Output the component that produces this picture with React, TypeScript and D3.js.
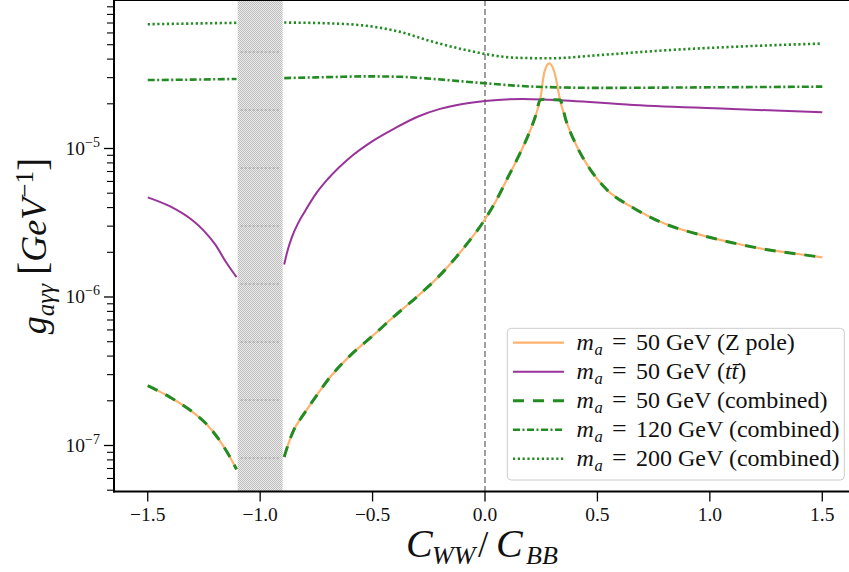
import React from "react";
import * as d3 from "d3";

const W = 849;
const H = 572;

// ---- axis config ----
const X_DOMAIN = [-1.65, 1.65];
const Y_DOMAIN = [4.9e-8, 1e-4];
const X_TICKS = [-1.5, -1.0, -0.5, 0.0, 0.5, 1.0, 1.5];
const X_TICK_LABELS = ["\u22121.5", "\u22121.0", "\u22120.5", "0.0", "0.5", "1.0", "1.5"];
const Y_TICKS = [1e-7, 1e-6, 1e-5];
const Y_TICK_EXP = ["\u22127", "\u22126", "\u22125"];
const BAND = [-1.1, -0.9];

// ---- data: Z pole, m_a = 50 GeV ----
const zpoleLeftX = [-1.5, -1.4, -1.3, -1.24, -1.18, -1.135, -1.105];
const zpoleLeftG = [2.53e-7, 2.11e-7, 1.68e-7, 1.40e-7, 1.08e-7, 8.4e-8, 6.9e-8];
const zpoleRightX = [-0.893, -0.875, -0.85, -0.82, -0.8, -0.75, -0.7, -0.6, -0.5, -0.4, -0.3, -0.2, -0.1, 0.0, 0.05, 0.1, 0.15, 0.2, 0.225, 0.245, 0.265, 0.286, 0.31, 0.334, 0.36, 0.41, 0.47, 0.54, 0.66, 0.8, 0.95, 1.1, 1.25, 1.4, 1.5];
const zpoleRightG = [8.36e-8, 1.023e-7, 1.274e-7, 1.514e-7, 1.679e-7, 2.16e-7, 2.75e-7, 4.03e-7, 5.47e-7, 7.5e-7, 1.012e-6, 1.403e-6, 2.09e-6, 3.34e-6, 4.47e-6, 6.31e-6, 8.91e-6, 1.312e-5, 1.66e-5, 2.12e-5, 3.31e-5, 3.74e-5, 3.21e-5, 2.12e-5, 1.55e-5, 1.023e-5, 7.16e-6, 5.31e-6, 3.98e-6, 3.11e-6, 2.64e-6, 2.32e-6, 2.09e-6, 1.94e-6, 1.85e-6];

// ---- data: ttbar, m_a = 50 GeV ----
const ttLeftX = [-1.5, -1.4, -1.3, -1.25, -1.2, -1.15, -1.105];
const ttLeftG = [4.69e-6, 4.07e-6, 3.27e-6, 2.79e-6, 2.26e-6, 1.70e-6, 1.36e-6];
const ttRightX = [-0.893, -0.88, -0.86, -0.83, -0.8, -0.75, -0.7, -0.6, -0.5, -0.4, -0.3, -0.2, -0.1, 0.0, 0.17, 0.29, 0.66, 1.1, 1.5];
const ttRightG = [1.656e-6, 2.0e-6, 2.5e-6, 3.17e-6, 3.8e-6, 5.01e-6, 6.21e-6, 8.71e-6, 1.122e-5, 1.371e-5, 1.637e-5, 1.849e-5, 1.995e-5, 2.09e-5, 2.158e-5, 2.13e-5, 1.963e-5, 1.845e-5, 1.754e-5];

// ---- data: combined, m_a = 50 GeV ----
const comb50LeftX = [-1.5, -1.4, -1.3, -1.24, -1.18, -1.135, -1.105];
const comb50LeftG = [2.53e-7, 2.11e-7, 1.68e-7, 1.40e-7, 1.08e-7, 8.4e-8, 6.9e-8];
const comb50RightX = [-0.893, -0.875, -0.85, -0.82, -0.8, -0.75, -0.7, -0.6, -0.5, -0.4, -0.3, -0.2, -0.1, 0.0, 0.05, 0.1, 0.15, 0.2, 0.225, 0.245, 0.265, 0.286, 0.31, 0.334, 0.36, 0.41, 0.47, 0.54, 0.66, 0.8, 0.95, 1.1, 1.25, 1.4, 1.5];
const comb50RightG = [8.36e-8, 1.023e-7, 1.274e-7, 1.514e-7, 1.679e-7, 2.16e-7, 2.75e-7, 4.03e-7, 5.47e-7, 7.5e-7, 1.012e-6, 1.403e-6, 2.09e-6, 3.34e-6, 4.47e-6, 6.31e-6, 8.91e-6, 1.312e-5, 1.66e-5, 2.12e-5, 2.15e-5, 2.14e-5, 2.13e-5, 2.12e-5, 1.55e-5, 1.023e-5, 7.16e-6, 5.31e-6, 3.98e-6, 3.11e-6, 2.64e-6, 2.32e-6, 2.09e-6, 1.94e-6, 1.85e-6];

// ---- data: combined, m_a = 120 GeV ----
const comb120LeftX = [-1.5, -1.3, -1.105];
const comb120LeftG = [2.89e-5, 2.91e-5, 2.94e-5];
const comb120RightX = [-0.893, -0.675, -0.526, -0.378, -0.23, -0.1, 0.0, 0.215, 0.512, 0.956, 1.5];
const comb120RightG = [2.98e-5, 3.03e-5, 3.06e-5, 3.04e-5, 2.94e-5, 2.83e-5, 2.75e-5, 2.61e-5, 2.56e-5, 2.58e-5, 2.61e-5];

// ---- data: combined, m_a = 200 GeV ----
const comb200LeftX = [-1.5, -1.105];
const comb200LeftG = [6.87e-5, 7.02e-5];
const comb200RightX = [-0.893, -0.675, -0.526, -0.378, -0.23, -0.081, 0.0, 0.141, 0.289, 0.512, 0.808, 1.105, 1.5];
const comb200RightG = [7.05e-5, 6.95e-5, 6.7e-5, 6.1e-5, 5.22e-5, 4.59e-5, 4.33e-5, 4.08e-5, 4.05e-5, 4.26e-5, 4.59e-5, 4.84e-5, 5.09e-5];

const LEGEND_MASS = ["50", "50", "50", "120", "200"];
const LEGEND_TAGS = ["(Z pole)", "(tt)", "(combined)", "(combined)", "(combined)"];

const FONT = "'Liberation Serif', 'DejaVu Serif', serif";

const ORANGE = "#ffb26e";
const PURPLE = "#993399";
const GREEN = "#228b22";

const STYLES = [
  { stroke: ORANGE, width: 2.2, dash: "none" },
  { stroke: PURPLE, width: 2.0, dash: "none" },
  { stroke: GREEN, width: 3.0, dash: "11 9" },
  { stroke: GREEN, width: 2.6, dash: "7 2.5 2 2.5" },
  { stroke: GREEN, width: 2.6, dash: "2.2 2.6" },
];

const SERIES = [
  [[zpoleLeftX, zpoleLeftG], [zpoleRightX, zpoleRightG]],
  [[ttLeftX, ttLeftG], [ttRightX, ttRightG]],
  [[comb50LeftX, comb50LeftG], [comb50RightX, comb50RightG]],
  [[comb120LeftX, comb120LeftG], [comb120RightX, comb120RightG]],
  [[comb200LeftX, comb200LeftG], [comb200RightX, comb200RightG]],
];

export default function App() {
  const left = 114;
  const right = 856;
  const top = 0;
  const bottom = 491.5;

  const x = d3.scaleLinear().domain(X_DOMAIN).range([left, right]);
  const y = d3.scaleLog().domain(Y_DOMAIN).range([bottom, top]);

  const line = d3
    .line<[number, number]>()
    .x((d) => x(d[0]))
    .y((d) => y(d[1]))
    .curve(d3.curveMonotoneX);

  const minorTicks: number[] = [];
  for (let e = -8; e <= -4; e++) {
    for (let m = 2; m <= 9; m++) {
      const v = m * Math.pow(10, e);
      if (v >= Y_DOMAIN[0] && v <= Y_DOMAIN[1]) minorTicks.push(v);
    }
  }

  const bx0 = x(BAND[0]);
  const bx1 = x(BAND[1]);
  const hatchYs = d3.range(52, bottom, 58);

  const legendRowY = (i: number) => 342.7 + i * 29;

  return (
    <svg
      width={W}
      height={H}
      style={{ position: "absolute", left: 0, top: 0, background: "#fff" }}
      fontFamily={FONT}
    >
      <defs>
        <pattern id="chk" width="2" height="2" patternUnits="userSpaceOnUse">
          <rect width="2" height="2" fill="#ececec" />
          <rect width="1" height="1" fill="#bdbdbd" />
          <rect x="1" y="1" width="1" height="1" fill="#bdbdbd" />
        </pattern>
        <clipPath id="plotclip">
          <rect x={left} y={top} width={right - left} height={bottom - top} />
        </clipPath>
      </defs>

      {/* excluded band */}
      <rect x={bx0} y={top} width={bx1 - bx0} height={bottom - top} fill="url(#chk)" />
      {hatchYs.map((hy, i) => (
        <line key={i} x1={bx0 + 3} x2={bx1 - 3} y1={hy} y2={hy} stroke="#8a8a8a" strokeWidth={0.8} strokeDasharray="2 2" />
      ))}

      {/* vertical dashed line at 0 */}
      <line x1={x(0)} x2={x(0)} y1={top} y2={bottom} stroke="#808080" strokeWidth={1.5} strokeDasharray="6 3" />

      {/* curves */}
      <g clipPath="url(#plotclip)">
        {SERIES.map((branches, si) =>
          branches.map(([xs, gs], bi) => (
            <path
              key={`${si}-${bi}`}
              d={line(xs.map((xv, k) => [xv, gs[k]] as [number, number])) || ""}
              fill="none"
              stroke={STYLES[si].stroke}
              strokeWidth={STYLES[si].width}
              strokeDasharray={STYLES[si].dash}
            />
          ))
        )}
      </g>

      {/* spines */}
      <line x1={left} x2={left} y1={top} y2={bottom + 1} stroke="#000" strokeWidth={2} />
      <line x1={left - 1} x2={W} y1={bottom} y2={bottom} stroke="#000" strokeWidth={2} />
      <line x1={left - 1} x2={W} y1={top} y2={top} stroke="#000" strokeWidth={2} />

      {/* x ticks */}
      {X_TICKS.map((t, i) => (
        <g key={i}>
          <line x1={x(t)} x2={x(t)} y1={bottom} y2={bottom + 10} stroke="#000" strokeWidth={1.3} />
          <text x={x(t)} y={520.7} textAnchor="middle" fontSize={19.5} fill="#111">
            {X_TICK_LABELS[i]}
          </text>
        </g>
      ))}

      {/* y ticks */}
      {minorTicks.map((t, i) => (
        <line key={i} x1={left - 7} x2={left} y1={y(t)} y2={y(t)} stroke="#000" strokeWidth={1.1} />
      ))}
      {Y_TICKS.map((t, i) => (
        <g key={i}>
          <line x1={left - 10} x2={left} y1={y(t)} y2={y(t)} stroke="#000" strokeWidth={1.3} />
          <text x={100} y={y(t) + 6.5} textAnchor="end" fontSize={19.5} fill="#111">
            10
            <tspan fontSize={14} dy={-8}>
              {Y_TICK_EXP[i]}
            </tspan>
          </text>
        </g>
      ))}

      {/* legend */}
      <rect x={507.3} y={328.3} width={337} height={151.7} rx={4} fill="#fff" fillOpacity={0.8} stroke="#cccccc" strokeWidth={1} />
      {LEGEND_MASS.map((m, i) => {
        const cy = legendRowY(i);
        const st = STYLES[i];
        const by = cy + 7.5;
        return (
          <g key={i} fill="#111" fontSize={24}>
            <line x1={513} x2={564} y1={cy} y2={cy} stroke={st.stroke} strokeWidth={st.width} strokeDasharray={st.dash} />
            <text x={576.5} y={by} fontStyle="italic">m</text>
            <text x={594.5} y={by + 5} fontStyle="italic" fontSize={16.5}>a</text>
            <text x={612} y={by} fontSize={26}>=</text>
            <text x={636} y={by} style={{ whiteSpace: "pre" }}>
              <tspan>{`${m} GeV `}</tspan>
              {i === 1 ? (
                <>
                  <tspan>(</tspan>
                  <tspan fontStyle="italic">t</tspan>
                  <tspan fontStyle="italic">{"t\u0304"}</tspan>
                  <tspan>)</tspan>
                </>
              ) : (
                <tspan>{LEGEND_TAGS[i]}</tspan>
              )}
            </text>
          </g>
        );
      })}

      {/* x label */}
      <g fill="#111" fontStyle="italic">
        <text x={406} y={557} fontSize={40}>C</text>
        <text x={432} y={564} fontSize={26}>WW</text>
        <text x={478} y={557} fontSize={37} fontStyle="normal">/</text>
        <text x={496} y={557} fontSize={40}>C</text>
        <text x={526} y={564} fontSize={26}>BB</text>
      </g>

      {/* y label */}
      <text transform="translate(46,246) rotate(-90)" textAnchor="middle" fontSize={36} fill="#111" style={{ whiteSpace: "pre" }}>
        <tspan fontStyle="italic">g</tspan>
        <tspan fontStyle="italic" fontSize={25} dy={8}>{"a\u03b3\u03b3"}</tspan>
        <tspan dy={-8}> </tspan>
        <tspan fontSize={40}>[</tspan>
        <tspan fontStyle="italic">GeV</tspan>
        <tspan fontSize={25} dy={-13}>{"\u22121"}</tspan>
        <tspan fontSize={40} dy={13}>]</tspan>
      </text>
    </svg>
  );
}
